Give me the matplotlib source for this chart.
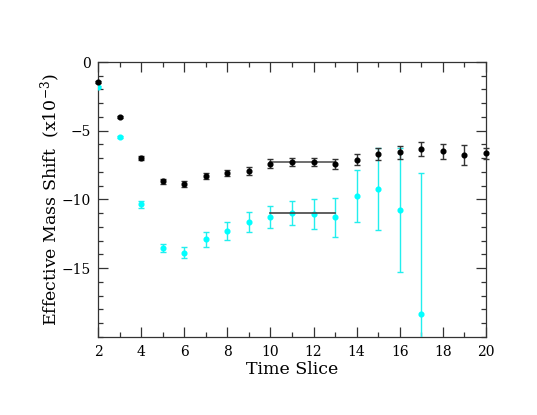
import numpy as np
import matplotlib
matplotlib.use('Agg')
import matplotlib.pyplot as plt
from matplotlib.ticker import MultipleLocator

plt.rcParams['font.family'] = ['DejaVu Serif']
plt.rcParams['mathtext.fontset'] = 'dejavuserif'

# time slices
t_black = [2, 3, 4, 5, 6, 7, 8, 9, 10, 11, 12, 13, 14, 15, 16, 17, 18, 19, 20]
shift_black = [-1.43, -4.0, -6.97, -8.67, -8.89, -8.3, -8.1, -7.9, -7.4, -7.28,
               -7.3, -7.43, -7.1, -6.7, -6.58, -6.33, -6.5, -6.77, -6.65]
err_black = [0.08, 0.05, 0.15, 0.18, 0.2, 0.2, 0.22, 0.29, 0.32, 0.3,
             0.29, 0.34, 0.42, 0.46, 0.48, 0.53, 0.55, 0.7, 0.4]

t_cyan = [2, 3, 4, 5, 6, 7, 8, 9, 10, 11, 12, 13, 14, 15, 16, 17]
shift_cyan = [-1.82, -5.46, -10.36, -13.55, -13.86, -12.91, -12.28, -11.67, -11.29,
              -10.97, -11.04, -11.29, -9.76, -9.25, -10.75, -18.32]
err_cyan = [0.08, 0.08, 0.28, 0.3, 0.42, 0.53, 0.64, 0.73, 0.81,
            0.86, 1.09, 1.42, 1.89, 3.0, 4.5, 10.27]

# plateau fits
fit_range = [10, 13]
fit_black = -7.28
fit_cyan = -10.97

fig = plt.figure(figsize=(5.37, 4.15), dpi=100)
ax = fig.add_axes([0.1825, 0.188, 0.7225, 0.6626])

ax.errorbar(t_cyan, shift_cyan, yerr=err_cyan, fmt='o', color='cyan', ms=3.4,
            ecolor='#22eeee', elinewidth=1.0, capsize=2.2, capthick=1.0, zorder=3)
ax.plot(fit_range, [fit_cyan, fit_cyan], color='#444444', lw=1.2, zorder=4)
ax.plot(fit_range, [fit_black, fit_black], color='#555555', lw=1.2, zorder=4)
ax.errorbar(t_black, shift_black, yerr=err_black, fmt='o', color='black', ms=3.4,
            ecolor='#333333', elinewidth=1.0, capsize=2.2, capthick=1.0, zorder=5,
            clip_on=False)

ax.set_xlim(2, 20)
ax.set_ylim(-20, 0)
ax.set_xticks(range(2, 21, 2))
ax.set_yticks([0, -5, -10, -15])
ax.set_yticklabels(['0', '\u22125', '\u221210', '\u221215'])
ax.xaxis.set_minor_locator(MultipleLocator(1))
ax.yaxis.set_minor_locator(MultipleLocator(1))
ax.tick_params(which='both', direction='in', top=True, right=True, color='#333333',
               labelsize=10)
ax.tick_params(which='major', length=7, width=0.9, pad=6)
ax.tick_params(axis='y', which='major', pad=5)
ax.tick_params(which='minor', length=3.5, width=0.9)
for s in ax.spines.values():
    s.set_color('#333333')
    s.set_linewidth(0.9)

ax.set_xlabel('Time Slice', fontsize=12.5, labelpad=1)
ax.set_ylabel(r'Effective Mass Shift  (x10$^{-3}$)', fontsize=12.5, labelpad=-1)

fig.savefig('out.png', dpi=100)
